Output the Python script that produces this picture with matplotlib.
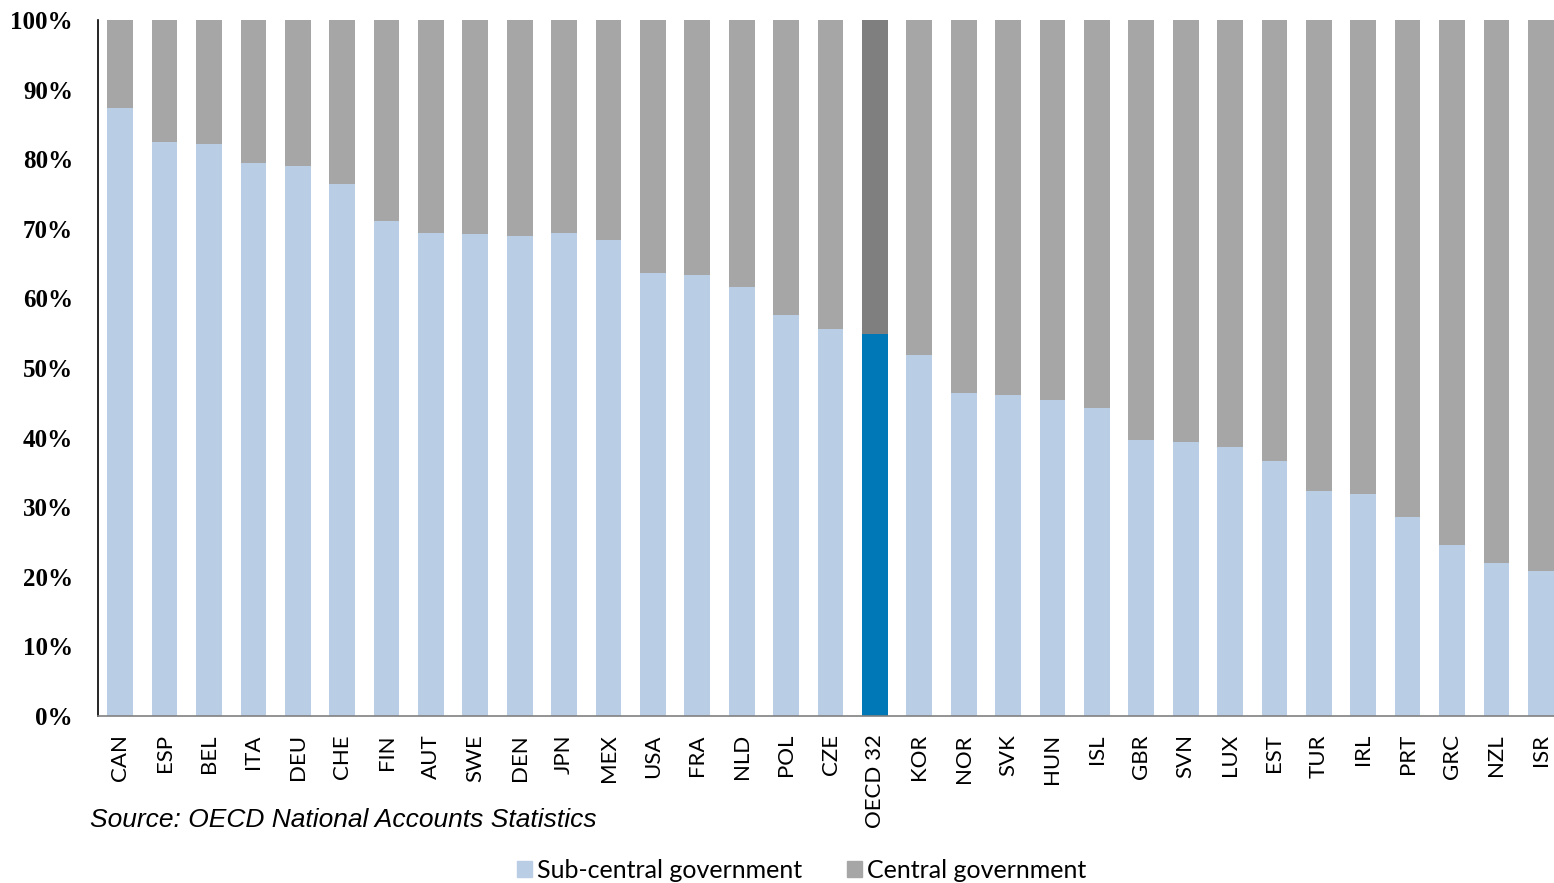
import matplotlib
matplotlib.use("Agg")
import matplotlib.pyplot as plt
from matplotlib.patches import Patch
import numpy as np

countries = ["CAN", "ESP", "BEL", "ITA", "DEU", "CHE", "FIN", "AUT", "SWE", "DEN",
             "JPN", "MEX", "USA", "FRA", "NLD", "POL", "CZE", "OECD 32", "KOR", "NOR",
             "SVK", "HUN", "ISL", "GBR", "SVN", "LUX", "EST", "TUR", "IRL", "PRT",
             "GRC", "NZL", "ISR"]
sub_central = [87.4, 82.5, 82.2, 79.5, 79.0, 76.4, 71.1, 69.4, 69.3, 69.0,
               69.4, 68.4, 63.6, 63.4, 61.6, 57.6, 55.6, 54.9, 51.9, 46.4,
               46.1, 45.4, 44.3, 39.7, 39.4, 38.6, 36.6, 32.3, 31.9, 28.6,
               24.6, 22.0, 20.8]
central = [100 - v for v in sub_central]
highlight = "OECD 32"

c_sub, c_cen = "#b9cde5", "#a6a6a6"
c_sub_hi, c_cen_hi = "#0077b6", "#7f7f7f"

fig = plt.figure(figsize=(15.54, 8.83), dpi=100)
ax = fig.add_axes([98 / 1554, 167 / 883, 1465 / 1554, 696 / 883])

x = np.arange(len(countries))
sub_cols = [c_sub_hi if c == highlight else c_sub for c in countries]
cen_cols = [c_cen_hi if c == highlight else c_cen for c in countries]
ax.bar(x, sub_central, width=0.58, color=sub_cols, linewidth=0)
ax.bar(x, central, bottom=sub_central, width=0.58, color=cen_cols, linewidth=0)

ax.set_xlim(-0.5, len(countries) - 0.5)
ax.set_ylim(0, 100)
ax.set_yticks(np.arange(0, 101, 10))
ax.set_yticklabels([f"{v}%" for v in range(0, 101, 10)],
                   fontfamily="Liberation Serif", fontweight="bold", fontsize=18)
ax.set_xticks(x)
ax.set_xticklabels(countries, rotation=90, fontfamily="Lato", fontsize=16)
ax.tick_params(axis="y", length=0, pad=18)
ax.tick_params(axis="x", length=0, pad=13)

for s in ("top", "right"):
    ax.spines[s].set_visible(False)
ax.spines["left"].set_color("black")
ax.spines["left"].set_linewidth(1.2)
ax.spines["bottom"].set_color("#808080")
ax.spines["bottom"].set_linewidth(1.2)

fig.text(90 / 1554, 1 - 820 / 883, "Source: OECD National Accounts Statistics",
         fontfamily="Liberation Sans", fontstyle="italic", fontsize=19,
         ha="left", va="center")

handles = [Patch(color=c_sub, label="Sub-central government"),
           Patch(color=c_cen, label="Central government")]
fig.legend(handles=handles, loc="center", bbox_to_anchor=(802 / 1554, 1 - 870 / 883),
           ncol=2, frameon=False, prop={"family": "Lato", "size": 18},
           handlelength=0.6, handleheight=0.6, handletextpad=0.2, columnspacing=1.8)

fig.savefig("out.png", dpi=100)
